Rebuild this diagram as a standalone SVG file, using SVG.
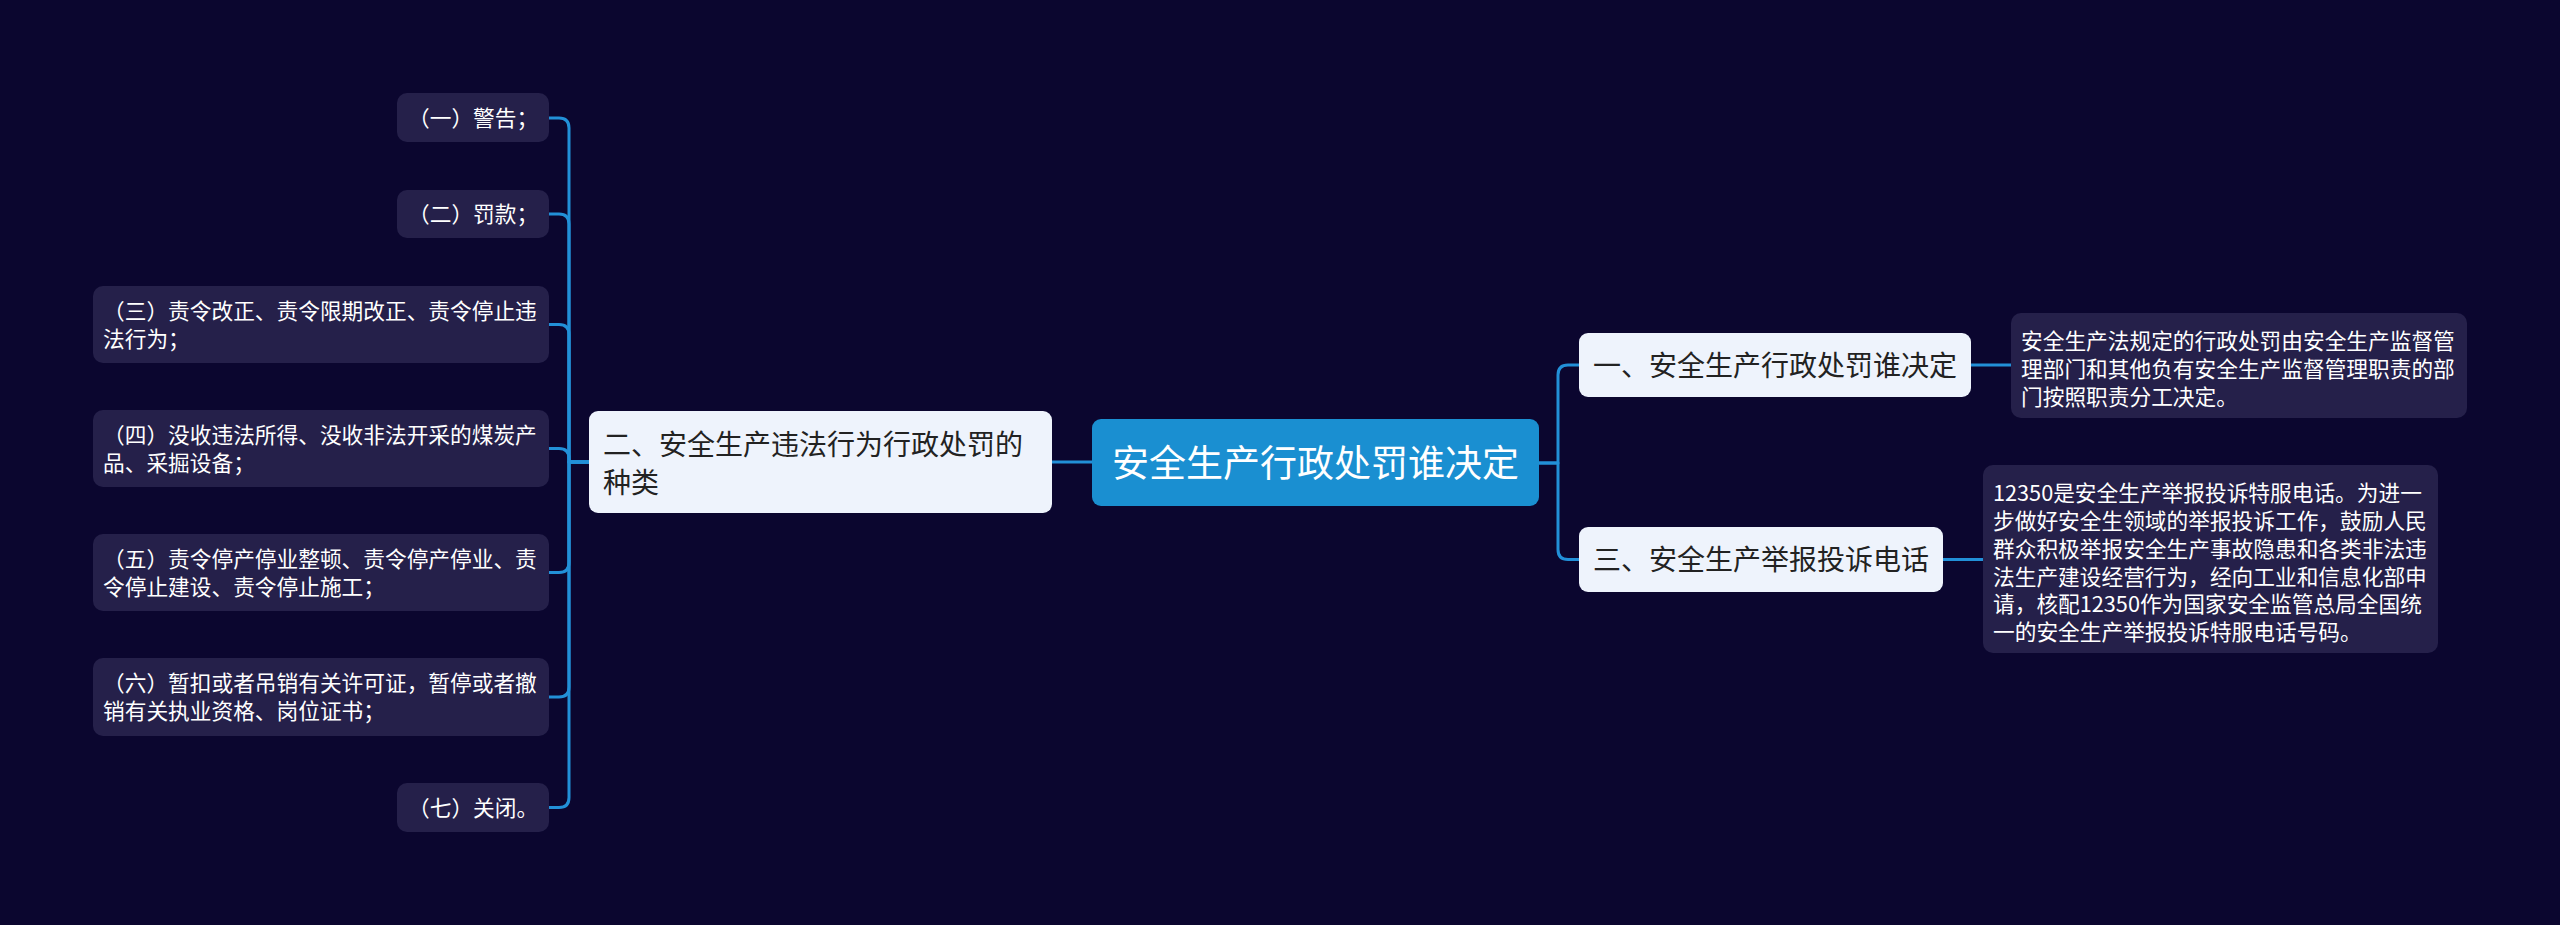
<svg xmlns="http://www.w3.org/2000/svg" width="2560" height="925" viewBox="0 0 2560 925">
<style>
.bg{fill:#0b062f}
.conn{fill:none;stroke:#2290d8;stroke-width:3;stroke-linecap:round;stroke-linejoin:round}
.root{fill:#1a8fd1}
.main{fill:#eef3fc}
.leaf{fill:#25204a}
text{font-family:"Noto Sans CJK SC","Noto Sans",sans-serif}
.tr{fill:#ffffff;font-size:37px}
.tm{fill:#222222;font-size:28px}
.tl{fill:#ffffff;font-size:21.7px}
</style>
<rect class="bg" x="0" y="0" width="2560" height="925"/>
<g id="connectors">
<path class="conn" d="M589 462 H569 V128 Q569 118 559 118 H549"/>
<path class="conn" d="M589 462 H569 V224 Q569 214 559 214 H549"/>
<path class="conn" d="M589 462 H569 V334.5 Q569 324.5 559 324.5 H549"/>
<path class="conn" d="M589 462 H569 V458.5 Q569 448.5 559 448.5 H549"/>
<path class="conn" d="M589 462 H569 V562.5 Q569 572.5 559 572.5 H549"/>
<path class="conn" d="M589 462 H569 V687 Q569 697 559 697 H549"/>
<path class="conn" d="M589 462 H569 V797.5 Q569 807.5 559 807.5 H549"/>
<path class="conn" d="M1092 462 H1052"/>
<path class="conn" d="M1539 463 H1558 V375 Q1558 365 1568 365 H1579"/>
<path class="conn" d="M1539 463 H1558 V549.5 Q1558 559.5 1568 559.5 H1579"/>
<path class="conn" d="M1971 365 H2011"/>
<path class="conn" d="M1943 559.5 H1983"/>
</g>
<g id="root">
<rect class="root" x="1092" y="419" width="447" height="87" rx="9"/>
<text class="tr" x="1315.5" y="477" text-anchor="middle">安全生产行政处罚谁决定</text>
</g>
<g id="node-2">
<rect class="main" x="589" y="411" width="463" height="102" rx="9"/>
<text class="tm" x="603" y="454.6">二、安全生产违法行为行政处罚的</text>
<text class="tm" x="603" y="492.6">种类</text>
</g>
<g id="node-1">
<rect class="main" x="1579" y="333" width="392" height="64" rx="9"/>
<text class="tm" x="1593" y="375.6">一、安全生产行政处罚谁决定</text>
</g>
<g id="node-3">
<rect class="main" x="1579" y="527" width="364" height="65" rx="9"/>
<text class="tm" x="1593" y="570.1">三、安全生产举报投诉电话</text>
</g>
<g id="desc-1">
<rect class="leaf" x="2011" y="313" width="456" height="105" rx="10"/>
<text class="tl" x="2021" y="349.2">安全生产法规定的行政处罚由安全生产监督管</text>
<text class="tl" x="2021" y="377">理部门和其他负有安全生产监督管理职责的部</text>
<text class="tl" x="2021" y="404.8">门按照职责分工决定。</text>
</g>
<g id="desc-3">
<rect class="leaf" x="1983" y="465" width="455" height="188" rx="10"/>
<text class="tl" x="1993" y="501.2">12350是安全生产举报投诉特服电话。为进一</text>
<text class="tl" x="1993" y="529">步做好安全生领域的举报投诉工作，鼓励人民</text>
<text class="tl" x="1993" y="556.8">群众积极举报安全生产事故隐患和各类非法违</text>
<text class="tl" x="1993" y="584.6">法生产建设经营行为，经向工业和信息化部申</text>
<text class="tl" x="1993" y="612.4">请，核配12350作为国家安全监管总局全国统</text>
<text class="tl" x="1993" y="640.2">一的安全生产举报投诉特服电话号码。</text>
</g>
<g id="item-1">
<rect class="leaf" x="397" y="93" width="152" height="49" rx="10"/>
<text class="tl" x="408" y="126.2">（一）警告；</text>
</g>
<g id="item-2">
<rect class="leaf" x="397" y="190" width="152" height="48" rx="10"/>
<text class="tl" x="408" y="222.2">（二）罚款；</text>
</g>
<g id="item-3">
<rect class="leaf" x="93" y="286" width="456" height="77" rx="10"/>
<text class="tl" x="103" y="319.2">（三）责令改正、责令限期改正、责令停止违</text>
<text class="tl" x="103" y="347.2">法行为；</text>
</g>
<g id="item-4">
<rect class="leaf" x="93" y="410" width="456" height="77" rx="10"/>
<text class="tl" x="103" y="442.7">（四）没收违法所得、没收非法开采的煤炭产</text>
<text class="tl" x="103" y="470.7">品、采掘设备；</text>
</g>
<g id="item-5">
<rect class="leaf" x="93" y="534" width="456" height="77" rx="10"/>
<text class="tl" x="103" y="566.7">（五）责令停产停业整顿、责令停产停业、责</text>
<text class="tl" x="103" y="594.7">令停止建设、责令停止施工；</text>
</g>
<g id="item-6">
<rect class="leaf" x="93" y="658" width="456" height="78" rx="10"/>
<text class="tl" x="103" y="691.2">（六）暂扣或者吊销有关许可证，暂停或者撤</text>
<text class="tl" x="103" y="719.2">销有关执业资格、岗位证书；</text>
</g>
<g id="item-7">
<rect class="leaf" x="397" y="783" width="152" height="49" rx="10"/>
<text class="tl" x="408" y="815.7">（七）关闭。</text>
</g>
</svg>
